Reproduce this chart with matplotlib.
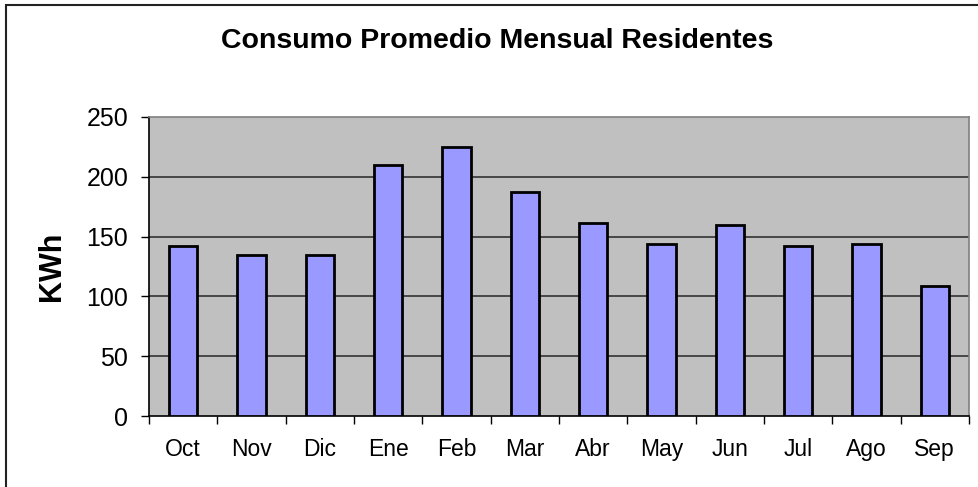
import matplotlib
matplotlib.use('Agg')
import matplotlib.pyplot as plt
from matplotlib.patches import Rectangle
import numpy as np

meses = ['Oct', 'Nov', 'Dic', 'Ene', 'Feb', 'Mar', 'Abr', 'May', 'Jun', 'Jul', 'Ago', 'Sep']
consumo = [142, 135, 135, 210, 225, 187, 161, 144, 160, 142, 144, 109]
yticks = [0, 50, 100, 150, 200, 250]

plt.rcParams['font.family'] = ['Liberation Sans', 'DejaVu Sans']

W, H = 979, 487
fig = plt.figure(figsize=(W/100, H/100), dpi=100)
ax = fig.add_axes([149/W, 1-416/H, (969-149)/W, (416-117)/H])
ax.set_facecolor('#C0C0C0')

x = np.arange(len(meses))
ax.bar(x, consumo, width=0.41, color='#9999FF', edgecolor='black', linewidth=2, zorder=3)

ax.set_xlim(-0.5, len(meses) - 0.5)
ax.set_ylim(0, 250)
ax.set_yticks(yticks)
ax.tick_params(axis='y', labelsize=18, length=6, width=1, direction='out', pad=9)
ax.set_xticks(x)
ax.set_xticklabels(meses, fontsize=16.5)
ax.tick_params(axis='x', length=0, pad=16)
ax.set_xticks(np.arange(-0.5, len(meses)), minor=True)
ax.tick_params(axis='x', which='minor', length=6, width=1, direction='out')

for v in yticks[1:-1]:
    ax.axhline(v, color='#333333', linewidth=1.2, zorder=1)

ax.spines['left'].set_color('black')
ax.spines['bottom'].set_color('black')
ax.spines['top'].set_color('#808080')
ax.spines['right'].set_color('#808080')
for s in ax.spines.values():
    s.set_linewidth(1.2)

fig.text(52/W, 1-266.5/H, 'KWh', rotation=90, ha='center', va='center',
         fontsize=22, fontweight='bold')
fig.text(497/W, 1-48.3/H, 'Consumo Promedio Mensual Residentes', ha='center', va='baseline',
         fontsize=20.5, fontweight='bold')

# marco exterior del grafico
fig.patches.append(Rectangle((6/W, -0.1), 1.0, 1.1-4.5/H, transform=fig.transFigure,
                             fill=False, edgecolor='#222222', linewidth=1.5))

fig.savefig('out.png', dpi=100)
